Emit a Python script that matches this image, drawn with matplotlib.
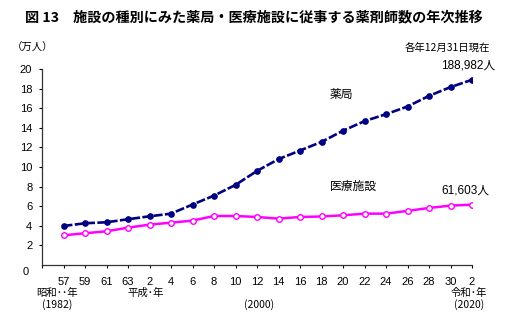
import matplotlib
matplotlib.use("Agg")
import matplotlib.pyplot as plt
import matplotlib.transforms as mtransforms

plt.rcParams["font.family"] = ["Noto Sans CJK JP", "DejaVu Sans"]
NUM_FONT = ["Liberation Sans", "Noto Sans CJK JP"]

# ============================================================
# Datos (万人)
# ============================================================

year_labels = ["57", "59", "61", "63", "2", "4", "6", "8", "10", "12",
               "14", "16", "18", "20", "22", "24", "26", "28", "30", "2"]

pharmacy = [3.98, 4.26, 4.36, 4.67, 4.97, 5.24, 6.17, 7.08, 8.17, 9.60,
            10.80, 11.68, 12.56, 13.70, 14.68, 15.39, 16.17, 17.26, 18.15, 18.90]

medical = [3.03, 3.24, 3.44, 3.81, 4.12, 4.32, 4.53, 5.00, 5.00, 4.90,
           4.73, 4.90, 4.95, 5.07, 5.24, 5.24, 5.52, 5.82, 6.06, 6.16]

y_ticks = [2, 4, 6, 8, 10, 12, 14, 16, 18, 20]

NAVY = "#000080"
MAGENTA = "#FF00FF"

x = list(range(1, len(year_labels) + 1))

# ============================================================
# Figura
# ============================================================

fig = plt.figure(figsize=(5.26, 3.28), dpi=100)
ax = fig.add_axes([42 / 526, 1 - 265 / 328, 430 / 526, 196 / 328])

line_ph, = ax.plot(x, pharmacy, color=NAVY, linewidth=1.9, marker="o",
                   markersize=3.8, markerfacecolor=NAVY, markeredgecolor=NAVY,
                   zorder=3)
line_ph.set_dashes([3.4, 0.9])

ax.plot(x, medical, color=MAGENTA, linewidth=1.8, marker="o",
        markersize=4.0, markerfacecolor="white", markeredgecolor=MAGENTA,
        markeredgewidth=1.0, zorder=3)

ax.set_xlim(0, len(year_labels))
ax.set_ylim(0, 20)

ax.spines["top"].set_visible(False)
ax.spines["right"].set_visible(False)
for s in ["left", "bottom"]:
    ax.spines[s].set_linewidth(0.9)
    ax.spines[s].set_color("#333333")

ax.set_yticks(y_ticks)
ax.set_yticklabels([str(v) for v in y_ticks], family=NUM_FONT)
ax.set_xticks([0] + x)
ax.set_xticklabels([""] + year_labels, family=NUM_FONT)
ax.tick_params(axis="y", direction="out", length=2.5, width=0.8,
               pad=4.5, labelsize=8)
ax.tick_params(axis="x", direction="out", length=2.5, width=0.8,
               pad=6, labelsize=8)

# etiqueta 0 desplazada
ax.annotate("0", xy=(0, 0), xycoords="axes fraction", xytext=(-12, -5),
            textcoords="offset points", ha="center", va="center",
            fontsize=8, family=NUM_FONT)

# eras / años bajo el eje x
trans = mtransforms.blended_transform_factory(ax.transData, ax.transAxes)
ax.text(0.7, -0.143, "昭和･･年", transform=trans, ha="center", va="center", fontsize=7.5)
ax.text(0.72, -0.204, "(1982)", transform=trans, ha="center", va="center", fontsize=7.5)
ax.text(4.8, -0.143, "平成･年", transform=trans, ha="center", va="center", fontsize=7.5)
ax.text(10.1, -0.204, "(2000)", transform=trans, ha="center", va="center", fontsize=7.5)
ax.text(19.85, -0.143, "令和･年", transform=trans, ha="center", va="center", fontsize=7.5)
ax.text(19.85, -0.204, "(2020)", transform=trans, ha="center", va="center", fontsize=7.5)

# etiquetas de series
ax.text(13.9, 17.4, "薬局", ha="center", va="center", fontsize=8.5)
ax.text(14.5, 8.0, "医療施設", ha="center", va="center", fontsize=8.5)
ax.annotate("188,982人", xy=(x[-1], pharmacy[-1]), xytext=(-3, 6),
            textcoords="offset points", ha="center", va="bottom",
            fontsize=8.5, family=NUM_FONT)
ax.annotate("61,603人", xy=(x[-1], medical[-1]), xytext=(-5, 6),
            textcoords="offset points", ha="center", va="bottom",
            fontsize=8.5, family=NUM_FONT)

# título y notas
fig.text(25 / 526, 1 - 17 / 328, "図 13　施設の種別にみた薬局・医療施設に従事する薬剤師数の年次推移",
         ha="left", va="center", fontsize=10.2, fontweight="bold")
fig.text(12 / 526, 1 - 48 / 328, "（万人）", ha="left", va="center", fontsize=7.5)
fig.text(490 / 526, 1 - 48 / 328, "各年12月31日現在", ha="right", va="center", fontsize=7.5)

fig.savefig("out.png", dpi=100)
